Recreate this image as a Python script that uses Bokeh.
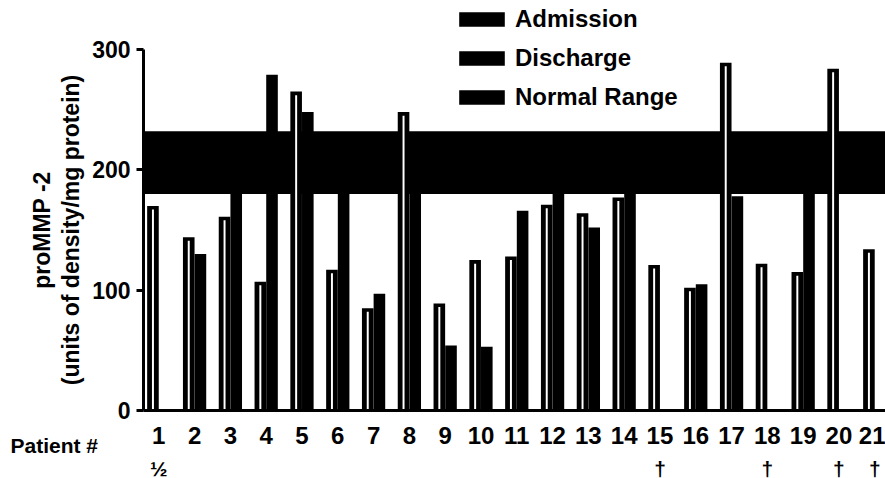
import numpy as np
from bokeh.plotting import figure
from bokeh.models import (Range1d, LinearAxis, FixedTicker, Legend, LegendItem,
                          ColumnDataSource, Title)
from bokeh.transform import dodge
from bokeh.embed import file_html
from bokeh.resources import INLINE

# ---- data ----
patients = list(range(1, 22))
tick_labels = [str(i) for i in patients]
admission = [170, 144, 161, 107, 265, 117, 85, 248, 89, 125, 128,
             171, 164, 177, 121, 102, 289, 122, 115, 284, 134]
discharge = [np.nan, 130, 205, 279, 248, 205, 97, 205, 54, 53, 166,
             205, 152, 205, np.nan, 105, 178, np.nan, 205, np.nan, np.nan]
normal_low = 180
normal_high = 232
y_min, y_max = 0, 300
y_ticks = [0, 100, 200, 300]
note_patients = [1, 15, 18, 20, 21]
note_labels = ["½", "†", "†", "†", "†"]
legend_labels = ["Admission", "Discharge", "Normal Range"]
x_title = "Patient #"
y_title_1 = "proMMP -2"
y_title_2 = "(units of density/mg protein)"

FONT = "Liberation Sans"
BAR_W = 0.324
OFF = 0.163
FRAME_H = 410           # frame reaches the top of the canvas (room for legend)
AXIS_H = 361            # pixel height of the 0..300 axis

x_range = Range1d(0.573, 21.3)
y_range = Range1d(y_min, y_max * FRAME_H / AXIS_H)
y_mid = (y_min + y_max) / 2

p = figure(frame_width=742, frame_height=FRAME_H, x_range=x_range, y_range=y_range,
           output_backend="svg", toolbar_location=None,
           x_axis_type=None, y_axis_type=None,
           min_border_top=0, min_border_right=0, min_border_left=143,
           min_border_bottom=0)
p.outline_line_color = None
p.background_fill_color = "white"

src = ColumnDataSource(dict(
    x=patients,
    adm=admission,
    adm_inner=[a - 3 for a in admission],
    dis=discharge,
))

band_src = ColumnDataSource(dict(left=[x_range.start], right=[x_range.end],
                                 bottom=[normal_low], top=[normal_high]))
band = p.quad(left="left", right="right", bottom="bottom", top="top",
              source=band_src, fill_color="black", line_color=None)

adm_r = p.vbar(x=dodge("x", -OFF), top="adm", bottom=0, width=BAR_W, source=src,
               fill_color="black", line_color=None)
p.vbar(x=dodge("x", -OFF), top="adm_inner", bottom=1, width=0.055, source=src,
       fill_color="white", line_color=None)
dis_r = p.vbar(x=dodge("x", OFF), top="dis", bottom=0, width=BAR_W, source=src,
               fill_color="black", line_color=None)

# ---- axes ----
def style_axis(ax):
    ax.major_label_text_font = FONT
    ax.major_label_text_font_style = "bold"
    ax.major_label_text_color = "black"
    ax.minor_tick_line_color = None

yax = LinearAxis(ticker=FixedTicker(ticks=y_ticks), bounds=(y_min, y_max))
style_axis(yax)
yax.axis_line_width = 3
yax.major_tick_line_width = 3
yax.major_tick_out = 7
yax.major_tick_in = 0
yax.major_label_text_font_size = "23px"
yax.major_label_standoff = 6
p.add_layout(yax, "left")

def title_axis(text, standoff):
    ax = LinearAxis(ticker=FixedTicker(ticks=[y_mid]),
                    major_label_overrides={y_mid: text},
                    major_label_orientation="vertical")
    style_axis(ax)
    ax.axis_line_color = None
    ax.major_tick_line_color = None
    ax.major_tick_out = 0
    ax.major_tick_in = 0
    ax.major_label_text_font_size = "23px"
    ax.major_label_standoff = standoff
    return ax

p.add_layout(title_axis(y_title_2, 6), "left")
p.add_layout(title_axis(y_title_1, 0), "left")

xax = LinearAxis(ticker=FixedTicker(ticks=patients),
                 major_label_overrides=dict(zip(patients, tick_labels)))
style_axis(xax)
xax.axis_line_width = 3
xax.major_tick_line_color = None
xax.major_label_text_font_size = "24px"
xax.major_label_standoff = 10
p.add_layout(xax, "below")

# "Patient #" caption: a zero-height title row, shifted left over the axis area
caption = Title(text=x_title, align="left", vertical_align="top", offset=-133,
                standoff=-26, text_font=FONT, text_font_style="bold",
                text_font_size="21px", text_color="black")
p.add_layout(caption, "below")

nax = LinearAxis(ticker=FixedTicker(ticks=note_patients),
                 major_label_overrides=dict(zip(note_patients, note_labels)))
style_axis(nax)
nax.axis_line_color = None
nax.major_tick_line_color = None
nax.major_label_text_font_size = "21px"
nax.major_label_standoff = 4
p.add_layout(nax, "below")

legend = Legend(items=[LegendItem(label=legend_labels[0], renderers=[adm_r]),
                       LegendItem(label=legend_labels[1], renderers=[dis_r]),
                       LegendItem(label=legend_labels[2], renderers=[band])],
                location=(310, 299), orientation="vertical",
                glyph_width=57, glyph_height=18, label_height=18, spacing=11,
                padding=0, margin=0, border_line_color=None,
                background_fill_alpha=0, label_standoff=5,
                label_text_font=FONT, label_text_font_style="bold",
                label_text_font_size="24px", label_text_color="black")
p.add_layout(legend)

open("out.html", "w").write(file_html(p, INLINE))
